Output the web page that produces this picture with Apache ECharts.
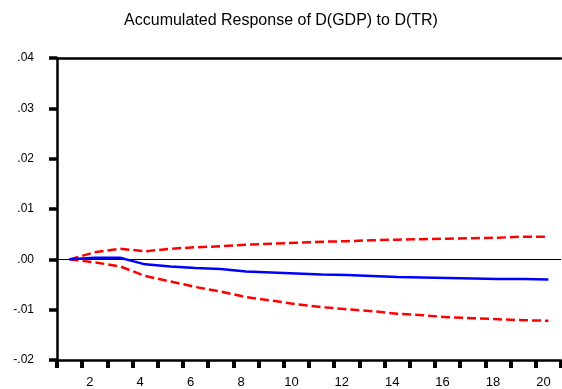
<!DOCTYPE html>
<html>
<head>
<meta charset="utf-8">
<script src="https://cdn.jsdelivr.net/npm/echarts@6/dist/echarts.min.js"></script>
<style>html,body{margin:0;padding:0;background:#fff;}#c{width:562px;height:389px;}</style>
</head>
<body>
<div id="c"></div>
<script>
var titleText = 'Accumulated Response of D(GDP) to D(TR)';
var periods = ['1','2','3','4','5','6','7','8','9','10','11','12','13','14','15','16','17','18','19','20'];
var response = [0, 0.0003, 0.0003, -0.0010, -0.0014, -0.0017, -0.0019, -0.0024, -0.0026, -0.0028, -0.0030, -0.0031, -0.0033, -0.0035, -0.0036, -0.0037, -0.0038, -0.0039, -0.0039, -0.0040];
var upperBand = [0, 0.0014, 0.0021, 0.0016, 0.0021, 0.0024, 0.0026, 0.0029, 0.0031, 0.0033, 0.0035, 0.0036, 0.0038, 0.0039, 0.0040, 0.0041, 0.0042, 0.0043, 0.0045, 0.0045];
var lowerBand = [0, -0.0006, -0.0014, -0.0033, -0.0044, -0.0055, -0.0064, -0.0075, -0.0082, -0.0089, -0.0095, -0.0099, -0.0103, -0.0108, -0.0111, -0.0115, -0.0117, -0.0119, -0.0121, -0.0122];
var yMin = -0.02, yMax = 0.04, yStep = 0.01;

var chart = echarts.init(document.getElementById('c'), null, {renderer: 'canvas'});
var font = 'Liberation Sans, Arial, sans-serif';
chart.setOption({
  animation: false,
  backgroundColor: '#fff',
  title: {
    text: titleText, left: 'center', top: 8, padding: [5, 5, 5, 17],
    textStyle: {fontFamily: font, fontSize: 16, fontWeight: 'normal', color: '#000'}
  },
  grid: {left: 57, right: 1, top: 58, bottom: 28},
  xAxis: [{
    type: 'category', data: periods, boundaryGap: true,
    axisLine: {onZero: false, lineStyle: {color: '#000', width: 2.5}},
    axisTick: {show: true, interval: 0, length: 8, inside: false, lineStyle: {color: '#000', width: 4}},
    axisLabel: {
      interval: function (i) { return i % 2 === 1; },
      color: '#000', fontFamily: font, fontSize: 13, margin: 16, padding: [0, 10, 0, 0]
    },
    splitLine: {show: false}
  }, {
    type: 'category', data: periods, position: 'top',
    axisLine: {onZero: false, lineStyle: {color: '#000', width: 2.5}},
    axisTick: {show: false}, axisLabel: {show: false}, splitLine: {show: false}
  }],
  yAxis: {
    type: 'value', min: yMin, max: yMax, interval: yStep,
    axisLine: {show: true, onZero: false, lineStyle: {color: '#000', width: 2.5}},
    axisTick: {show: true, length: 8, lineStyle: {color: '#000', width: 3.5}},
    axisLabel: {
      color: '#000', fontFamily: font, fontSize: 12, margin: 23, padding: [0, 0, 8, 0],
      formatter: function (v) {
        var s = (Math.round(v * 100) / 100).toFixed(2);
        return s.replace('0.', '.');
      }
    },
    splitLine: {show: false}
  },
  series: [{
    name: 'Response', type: 'line', data: response, symbol: 'none',
    lineStyle: {color: '#0000ff', width: 2.5},
    markLine: {
      silent: true, symbol: ['none', 'none'], label: {show: false},
      lineStyle: {color: '#000', width: 1, type: 'solid'},
      data: [{yAxis: 0}], z: 1
    },
    z: 3
  }, {
    name: 'Upper', type: 'line', data: upperBand, symbol: 'none',
    lineStyle: {color: '#ff0000', width: 2.5, type: [9, 4]}, z: 2
  }, {
    name: 'Lower', type: 'line', data: lowerBand, symbol: 'none',
    lineStyle: {color: '#ff0000', width: 2.5, type: [9, 4]}, z: 2
  }]
});
</script>
</body>
</html>
